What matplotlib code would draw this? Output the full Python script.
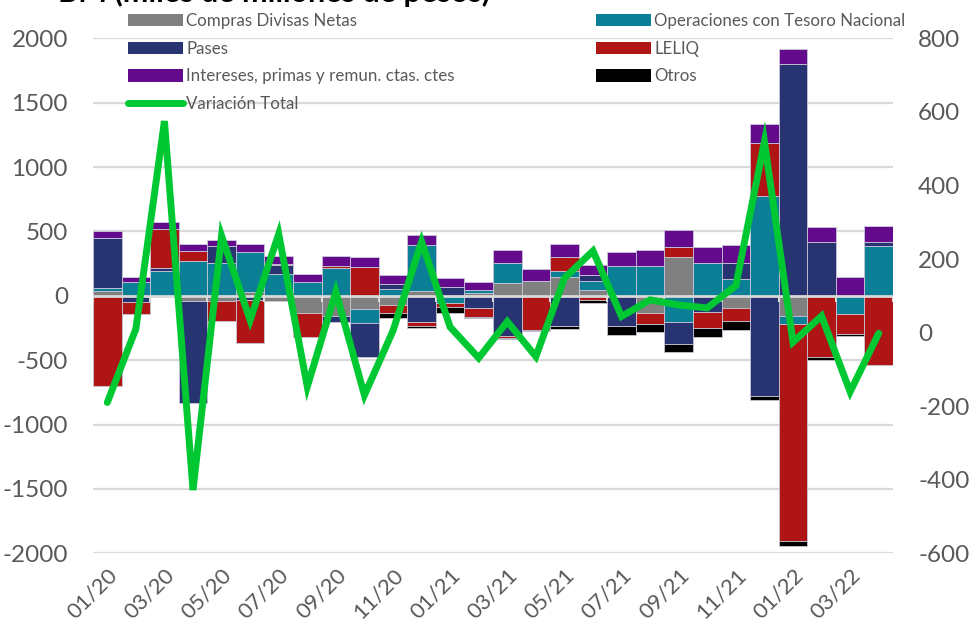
import numpy as np
import matplotlib
matplotlib.use("Agg")
import matplotlib.pyplot as plt
from matplotlib.patches import Patch
from matplotlib.lines import Line2D

plt.rcParams['font.family'] = ['Lato', 'DejaVu Sans']
plt.rcParams['axes.unicode_minus'] = False

meses = ['01/20', '02/20', '03/20', '04/20', '05/20', '06/20', '07/20', '08/20', '09/20', '10/20',
         '11/20', '12/20', '01/21', '02/21', '03/21', '04/21', '05/21', '06/21', '07/21', '08/21',
         '09/21', '10/21', '11/21', '12/21', '01/22', '02/22', '03/22', '04/22']

# miles de millones de pesos (eje izquierdo)
compras = [40, 0, 0, -44, -44, 30, -44, -135, -155, -104, -70, 34, 0, 20,
           99, 117, 145, 47, 0, -135, 303, 0, -93, 0, -160, 0, 0, 0]
tesoro = [20, 105, 194, 272, 256, 311, 171, 111, 215, -104, 52, 363, -57, 26,
          155, 0, 44, 70, 228, 233, -200, 258, 132, 772, -60, 0, -140, 389]
pases = [390, -45, 21, -785, 130, -36, 65, 0, -52, -264, 39, -207, 65, -93,
         -316, 0, -238, 47, -233, 0, -176, -122, 119, -780, 1800, 417, 0, 26]
leliq = [-700, -100, 306, 73, -150, -332, 13, -187, 13, 220, -65, -26, -30, -70,
         -13, -264, 109, -36, 0, -83, 78, -130, -99, 412, -1688, -479, -158, -536]
intereses = [55, 39, 52, 57, 47, 60, 57, 60, 83, 80, 70, 78, 73, 65,
             104, 91, 104, 78, 111, 124, 129, 124, 140, 150, 117, 114, 145, 124]
otros = [0, 0, 0, 0, 0, 0, 0, 0, 0, 0, -34, -15, -45, -13,
         -8, -13, -21, -21, -70, -65, -62, -65, -70, -31, -39, -18, -18, 0]

# eje derecho
variacion = [-190, 10, 575, -428, 263, 34, 268, -147, 111, -170, 5, 247, 15, -69,
             30, -65, 148, 222, 44, 89, 75, 67, 128, 519, -26, 45, -161, -2]

series = [
    ('Compras Divisas Netas', compras, '#808080'),
    ('Operaciones con Tesoro Nacional', tesoro, '#0B7F95'),
    ('Pases', pases, '#283372'),
    ('LELIQ', leliq, '#B01515'),
    ('Intereses, primas y remun. ctas. ctes', intereses, '#640A8C'),
    ('Otros', otros, '#000000'),
]
verde = '#00C832'
gris_txt = '#595959'

x = np.arange(len(meses))

fig = plt.figure(figsize=(9.73, 6.23), dpi=100)
ax = fig.add_axes([93 / 973, 1 - 553.3 / 623, 800 / 973, 515 / 623])

pos_base = np.zeros(len(x))
neg_base = np.zeros(len(x))
for name, vals, col in series:
    v = np.array(vals, dtype=float)
    bottom = np.where(v >= 0, pos_base, neg_base)
    ax.bar(x, v, width=1.0, bottom=bottom, color=col, edgecolor='#c9c6d6',
           linewidth=0.6, zorder=2)
    pos_base += np.where(v >= 0, v, 0)
    neg_base += np.where(v < 0, v, 0)

ax.set_xlim(-0.5, len(x) - 0.5)
ax.set_ylim(-2000, 2000)
ax.set_yticks(np.arange(-2000, 2001, 500))
ax.yaxis.grid(True, color='#d9d9d9', linewidth=1.6, zorder=0)
ax.set_axisbelow(True)
ax.axhline(0, color='#d9d9d9', linewidth=2, zorder=3)
ax.vlines(np.arange(-0.5, len(x), 2), -45, 0, color='#d9d9d9', linewidth=1.5, zorder=3)

ax.set_xticks(x[::2])
ax.set_xticklabels(meses[::2], rotation=45, ha='right', va='top', rotation_mode='anchor')
ax.tick_params(axis='y', length=0, labelsize=17.5, labelcolor=gris_txt, pad=18)
ax.tick_params(axis='x', length=0, labelsize=16, labelcolor=gris_txt, pad=8)
for s in ax.spines.values():
    s.set_visible(False)

ax2 = ax.twinx()
ax2.plot(x, variacion, color=verde, linewidth=5, solid_joinstyle='miter',
         solid_capstyle='round', zorder=5)
ax2.set_ylim(-600, 800)
ax2.set_yticks(np.arange(-600, 801, 200))
ax2.tick_params(axis='y', length=0, labelsize=17.5, labelcolor=gris_txt, pad=18)
for s in ax2.spines.values():
    s.set_visible(False)

# leyenda (orden por columnas para que se lea por filas)
h = {name: Patch(facecolor=col, edgecolor='none') for name, _, col in series}
linea = Line2D([], [], color=verde, linewidth=5, solid_capstyle='round')
handles = [h['Compras Divisas Netas'], h['Pases'], h['Intereses, primas y remun. ctas. ctes'], linea,
           h['Operaciones con Tesoro Nacional'], h['LELIQ'], h['Otros']]
labels = ['Compras Divisas Netas', 'Pases', 'Intereses, primas y remun. ctas. ctes', 'Variación Total',
          'Operaciones con Tesoro Nacional', 'LELIQ', 'Otros']
fig.legend(handles, labels, loc='upper left', bbox_to_anchor=(128 / 973, 1 - 13 / 623),
           ncol=2, frameon=False, fontsize=12.2, handlelength=3.25, handleheight=0.75,
           handletextpad=0.2, labelspacing=0.69, columnspacing=8.3, borderpad=0,
           borderaxespad=0, labelcolor=gris_txt)

fig.text(58 / 973, 1 - 2 / 623, 'BM (miles de millones de pesos)', fontsize=22, fontweight='bold',
         color='#000000', ha='left', va='baseline')

fig.savefig('out.png', dpi=100)
